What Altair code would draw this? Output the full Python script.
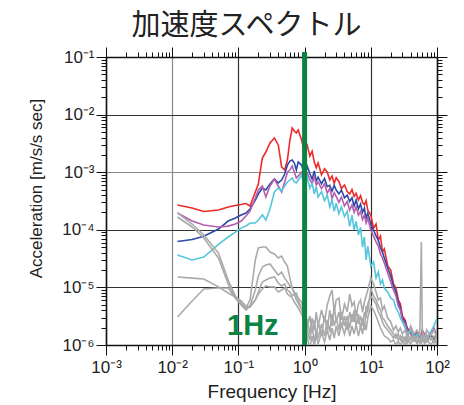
import altair as alt
import pandas as pd

# ---------------- data ----------------
color_freq = [0.012, 0.02, 0.03, 0.05, 0.07, 0.09, 0.11, 0.13, 0.15, 0.18, 0.2, 0.23, 0.26, 0.3, 0.35,
              0.4, 0.45, 0.5, 0.55, 0.6, 0.65, 0.7, 0.75, 0.8, 0.9,
              1.0, 1.1, 1.2, 1.3, 1.4, 1.5, 1.6, 1.8, 2.0, 2.2, 2.4, 2.6, 2.8, 3.0, 3.3, 3.6, 4.0, 4.4,
              4.8, 5.2, 5.6, 6.0, 6.5, 7.0, 7.5, 8.0, 8.5, 9.0, 10, 11, 12, 13, 14, 15, 16, 18, 20, 22,
              24, 26, 28, 30, 33, 36, 40, 45, 50, 55, 60, 70, 80, 90, 100]

red_acc = [2.70e-4, 2.39e-4, 2.08e-4, 2.20e-4, 2.49e-4, 2.64e-4, 2.75e-4, 2.86e-4, 2.59e-4, 4.53e-4,
           6.25e-4, 1.76e-3, 2.24e-3, 3.21e-3, 3.92e-3, 2.97e-3, 1.23e-3, 1.09e-3, 1.63e-3, 3.62e-3,
           5.85e-3, 5.19e-3, 4.80e-3, 5.40e-3, 3.62e-3,
           2.2e-3, 2.9e-3, 1.9e-3, 2.3e-3, 1.5e-3, 1.2e-3, 1.45e-3, 9.0e-4, 1.15e-3, 1.0e-3,
           7.3e-4, 8.6e-4, 6.4e-4, 8.0e-4, 6.9e-4, 5.2e-4, 6.0e-4, 4.6e-4, 4.2e-4, 5.0e-4,
           3.8e-4, 4.3e-4, 3.3e-4, 3.9e-4, 3.0e-4, 2.7e-4, 3.2e-4, 2.2e-4, 1.8e-4, 1.07e-4,
           1.26e-4, 6.65e-5, 7.8e-5, 4.12e-5, 4.65e-5, 2.35e-5, 2.00e-5, 1.15e-5, 9.76e-6, 6.05e-6,
           5.15e-6, 3.19e-6, 2.72e-6, 1.82e-6, 1.97e-6, 1.43e-6, 1.68e-6, 1.32e-6, 1.55e-6, 1.32e-6,
           1.49e-6, 1.27e-6, 1.55e-6]

blue_acc = [6.27e-5, 6.8e-5, 7.7e-5, 1.03e-4, 1.42e-4, 1.60e-4, 1.81e-4, 1.96e-4, 2.30e-4, 3.29e-4,
            4.18e-4, 5.32e-4, 4.91e-4, 6.25e-4, 7.62e-4, 6.50e-4, 7.32e-4, 9.31e-4, 1.33e-3, 1.56e-3,
            1.63e-3, 1.44e-3, 1.09e-3, 1.50e-3, 1.33e-3,
            8.6e-4, 1.25e-3, 9.5e-4, 7.6e-4, 1.05e-3, 7.0e-4, 8.2e-4, 6.3e-4, 7.8e-4, 5.6e-4,
            5.9e-4, 4.7e-4, 5.9e-4, 4.9e-4, 4.2e-4, 4.9e-4, 3.6e-4, 4.0e-4, 3.1e-4, 3.6e-4,
            2.6e-4, 3.3e-4, 2.3e-4, 2.8e-4, 2.0e-4, 2.4e-4, 1.55e-4, 1.95e-4, 1.26e-4, 9.9e-5,
            7.8e-5, 6.65e-5, 4.83e-5, 4.12e-5, 3.24e-5, 2.17e-5, 1.58e-5, 1.06e-5, 8.32e-6, 5.58e-6,
            4.39e-6, 2.94e-6, 2.51e-6, 1.82e-6, 1.68e-6, 1.43e-6, 1.55e-6, 1.32e-6, 1.43e-6, 1.27e-6,
            1.49e-6, 1.32e-6, 1.43e-6]

purple_acc = [1.96e-4, 1.42e-4, 1.21e-4, 1.12e-4, 1.16e-4, 1.26e-4, 1.42e-4, 1.74e-4, 2.12e-4, 3.56e-4,
              4.91e-4, 5.76e-4, 3.71e-4, 5.76e-4, 7.62e-4, 5.76e-4, 4.53e-4, 6.76e-4, 1.0e-3, 1.09e-3,
              1.28e-3, 1.0e-3, 7.94e-4, 8.59e-4, 1.0e-3,
              7.3e-4, 9.6e-4, 7.6e-4, 6.2e-4, 8.6e-4, 6.0e-4, 6.8e-4, 5.2e-4, 6.3e-4, 4.3e-4,
              5.3e-4, 3.5e-4, 4.4e-4, 3.8e-4, 3.0e-4, 3.7e-4, 2.6e-4, 3.1e-4, 2.2e-4, 2.7e-4,
              2.0e-4, 2.5e-4, 1.8e-4, 2.1e-4, 1.5e-4, 1.8e-4, 1.3e-4, 1.6e-4, 9.9e-5, 7.8e-5,
              6.15e-5, 5.23e-5, 3.80e-5, 3.24e-5, 2.65e-5, 1.78e-5, 1.24e-5, 9.01e-6, 7.09e-6, 4.76e-6,
              4.05e-6, 2.72e-6, 2.32e-6, 1.68e-6, 1.55e-6, 1.32e-6, 1.49e-6, 1.22e-6, 1.82e-6, 1.32e-6,
              1.62e-6, 1.97e-6, 1.43e-6]

cyan_acc = [3.65e-5, 2.99e-5, 3.37e-5, 5.6e-5, 7.5e-5, 9.1e-5, 1.07e-4, 1.16e-4, 1.31e-4, 1.31e-4,
            1.48e-4, 1.81e-4, 1.48e-4, 2.30e-4, 4.53e-4, 5.32e-4, 4.72e-4, 5.76e-4, 6.76e-4, 7.32e-4,
            7.94e-4, 6.76e-4, 6.5e-4, 7.32e-4, 8.95e-4,
            5.8e-4, 8.0e-4, 5.3e-4, 6.4e-4, 4.2e-4, 5.6e-4, 3.7e-4, 4.6e-4, 3.2e-4, 4.0e-4,
            2.5e-4, 3.3e-4, 2.1e-4, 2.9e-4, 1.9e-4, 2.5e-4, 1.7e-4, 2.1e-4, 1.15e-4, 1.8e-4,
            1.0e-4, 1.4e-4, 8.2e-5, 1.1e-4, 5.0e-5, 7.5e-5, 3.0e-5, 5.2e-5, 2.35e-5, 2.76e-5,
            1.46e-5, 1.85e-5, 1.15e-5, 1.34e-5, 9.76e-6, 8.32e-6, 6.55e-6, 6.05e-6, 4.39e-6, 3.74e-6,
            2.94e-6, 2.51e-6, 1.97e-6, 1.55e-6, 1.82e-6, 1.32e-6, 1.55e-6, 1.22e-6, 1.43e-6, 1.32e-6,
            1.68e-6, 2.14e-6, 2.94e-6]

gray_freq = [0.012, 0.02, 0.03, 0.05, 0.07, 0.09, 0.11, 0.13, 0.15, 0.18, 0.2, 0.23, 0.26, 0.3, 0.35,
             0.4, 0.45, 0.5, 0.55, 0.6, 0.65, 0.7, 0.75, 0.8, 0.9, 1.0,
             1.1, 1.2, 1.3, 1.4, 1.5, 1.6, 1.8, 2.0, 2.2, 2.4, 2.6, 2.8, 3.0, 3.3, 3.6, 4.0, 4.4, 4.8,
             5.2, 5.6, 6.0, 6.5, 7.0, 7.5, 8.0, 8.5, 9.0, 10, 11, 12, 13, 14, 15, 16, 18, 20, 22, 24,
             26, 28, 30, 33, 36, 40, 45, 50, 55, 58, 60, 65, 70, 80, 90, 100]

gray_a_acc = [1.96e-4, 1.26e-4, 8.1e-5, 3.95e-5, 1.34e-5, 7.09e-6, 5.36e-6, 4.39e-6, 6.05e-6, 2.99e-5,
              4.83e-5, 5.03e-5, 5.03e-5, 4.12e-5, 3.80e-5, 3.24e-5, 3.5e-5, 2.76e-5, 2.35e-5, 1.45e-5,
              9.76e-6, 8.32e-6, 7.09e-6, 6.05e-6, 4.39e-6, 3.19e-6,
              2.72e-6, 1.55e-6, 2.94e-6, 1.82e-6, 3.74e-6, 2.14e-6, 4.05e-6, 2.51e-6, 4.95e-6, 7.09e-6,
              9.01e-6, 3.74e-6, 6.05e-6, 6.55e-6, 2.72e-6, 5.15e-6, 3.74e-6, 7.68e-6, 4.76e-6, 5.58e-6,
              3.19e-6, 5.15e-6, 6.05e-6, 3.74e-6, 5.58e-6, 7.09e-6, 9.01e-6, 1.46e-5, 1.15e-5, 8.32e-6,
              6.05e-6, 6.55e-6, 4.05e-6, 4.76e-6, 2.94e-6, 2.51e-6, 1.82e-6, 2.14e-6, 1.68e-6, 1.97e-6,
              1.55e-6, 1.82e-6, 1.32e-6, 2.14e-6, 1.55e-6, 1.82e-6, 1.43e-6, 6.15e-5, 1.68e-6, 1.32e-6,
              1.82e-6, 1.43e-6, 1.82e-6, 1.32e-6]

gray_b_acc = [1.67e-4, 1.12e-4, 7.2e-5, 3.24e-5, 1.15e-5, 6.55e-6, 4.95e-6, 4.05e-6, 4.76e-6, 9.01e-6,
              1.58e-5, 2.26e-5, 2.45e-5, 2.55e-5, 2.00e-5, 1.64e-5, 1.85e-5, 1.45e-5, 1.24e-5, 1.06e-5,
              9.76e-6, 7.68e-6, 7.99e-6, 6.55e-6, 5.58e-6, 3.74e-6,
              1.82e-6, 1.22e-6, 2.14e-6, 1.13e-6, 1.82e-6, 1.32e-6, 2.32e-6, 1.43e-6, 2.72e-6, 1.68e-6,
              3.45e-6, 2.14e-6, 2.94e-6, 1.82e-6, 3.74e-6, 2.14e-6, 3.19e-6, 1.97e-6, 3.45e-6, 2.51e-6,
              4.05e-6, 2.32e-6, 3.19e-6, 2.14e-6, 3.74e-6, 2.94e-6, 5.15e-6, 7.09e-6, 6.05e-6, 5.15e-6,
              3.74e-6, 3.19e-6, 2.51e-6, 2.14e-6, 1.82e-6, 1.55e-6, 1.32e-6, 1.55e-6, 1.22e-6, 1.43e-6,
              1.13e-6, 1.38e-6, 1.08e-6, 1.43e-6, 1.17e-6, 1.38e-6, 1.08e-6, 1.43e-6, 1.22e-6, 1.43e-6,
              1.13e-6, 1.38e-6, 1.08e-6, 1.27e-6]

gray_c_acc = [1.52e-5, 1.45e-5, 1.40e-5, 1.02e-5, 7.99e-6, 6.81e-6, 5.81e-6, 4.76e-6, 4.57e-6, 6.05e-6,
              8.32e-6, 1.24e-5, 1.34e-5, 1.45e-5, 1.52e-5, 1.19e-5, 1.06e-5, 1.15e-5, 9.01e-6, 8.32e-6,
              7.09e-6, 7.68e-6, 6.05e-6, 5.36e-6, 4.05e-6, 2.94e-6,
              1.32e-6, 0.89e-6, 1.43e-6, 0.96e-6, 1.55e-6, 1.04e-6, 1.68e-6, 1.13e-6, 1.82e-6, 1.22e-6,
              1.97e-6, 1.32e-6, 2.14e-6, 1.43e-6, 2.32e-6, 1.55e-6, 2.51e-6, 1.43e-6, 2.14e-6, 1.55e-6,
              2.32e-6, 1.43e-6, 2.14e-6, 1.55e-6, 2.51e-6, 1.82e-6, 2.94e-6, 4.76e-6, 4.05e-6, 3.19e-6,
              2.51e-6, 1.97e-6, 1.68e-6, 1.43e-6, 1.32e-6, 1.13e-6, 1.22e-6, 1.0e-6, 1.17e-6, 0.96e-6,
              1.22e-6, 1.0e-6, 1.27e-6, 1.04e-6, 1.32e-6, 1.04e-6, 1.27e-6, 1.04e-6, 1.32e-6, 1.04e-6,
              1.27e-6, 1.0e-6, 1.22e-6, 1.04e-6]

gray_d_acc = [3.06e-6, 5.81e-6, 9.38e-6, 9.76e-6, 9.76e-6, 6.55e-6, 5.15e-6, 4.22e-6, 4.76e-6, 6.05e-6,
              7.68e-6, 9.38e-6, 1.06e-5, 1.02e-5, 1.02e-5, 8.32e-6, 9.01e-6, 9.76e-6, 7.68e-6, 7.09e-6,
              6.55e-6, 5.58e-6, 4.95e-6, 4.39e-6, 3.45e-6, 2.51e-6,
              2.14e-6, 3.19e-6, 1.68e-6, 2.72e-6, 1.32e-6, 2.51e-6, 1.43e-6, 3.19e-6, 1.82e-6, 4.05e-6,
              2.14e-6, 4.76e-6, 2.51e-6, 3.74e-6, 1.97e-6, 3.19e-6, 1.82e-6, 3.74e-6, 2.51e-6, 4.05e-6,
              2.14e-6, 3.45e-6, 1.97e-6, 2.94e-6, 1.82e-6, 4.76e-6, 3.74e-6, 9.76e-6, 7.09e-6, 6.05e-6,
              4.76e-6, 4.05e-6, 2.94e-6, 2.72e-6, 2.14e-6, 1.82e-6, 1.55e-6, 1.32e-6, 1.55e-6, 1.22e-6,
              1.43e-6, 1.17e-6, 1.49e-6, 1.22e-6, 1.43e-6, 1.13e-6, 1.32e-6, 1.17e-6, 1.43e-6, 1.17e-6,
              1.49e-6, 1.22e-6, 1.43e-6, 1.17e-6]

x_tick_values = [0.001, 0.002, 0.003, 0.004, 0.005, 0.006, 0.007, 0.008, 0.009,
                 0.01, 0.02, 0.03, 0.04, 0.05, 0.06, 0.07, 0.08, 0.09,
                 0.1, 0.2, 0.3, 0.4, 0.5, 0.6, 0.7, 0.8, 0.9,
                 1, 2, 3, 4, 5, 6, 7, 8, 9,
                 10, 20, 30, 40, 50, 60, 70, 80, 90, 100]
y_tick_values = [1e-6, 2e-6, 3e-6, 4e-6, 5e-6, 6e-6, 7e-6, 8e-6, 9e-6,
                 1e-5, 2e-5, 3e-5, 4e-5, 5e-5, 6e-5, 7e-5, 8e-5, 9e-5,
                 1e-4, 2e-4, 3e-4, 4e-4, 5e-4, 6e-4, 7e-4, 8e-4, 9e-4,
                 1e-3, 2e-3, 3e-3, 4e-3, 5e-3, 6e-3, 7e-3, 8e-3, 9e-3,
                 1e-2, 2e-2, 3e-2, 4e-2, 5e-2, 6e-2, 7e-2, 8e-2, 9e-2, 1e-1]
x_tick_labels = {-3: "10⁻³", -2: "10⁻²", -1: "10⁻¹", 0: "10⁰", 1: "10¹", 2: "10²"}
y_tick_labels = {-6: "10⁻⁶", -5: "10⁻⁵", -4: "10⁻⁴", -3: "10⁻³", -2: "10⁻²", -1: "10⁻¹"}

title_text = "加速度スペクトル"
x_title = "Frequency [Hz]"
y_title = "Acceleration [m/s/s sec]"
marker_label = "1Hz"
marker_freq = 1.0

# ---------------- styling ----------------
FONT = "Liberation Sans"
GREEN = "#0b8443"
series_styles = [
    ("red", red_acc, color_freq, "#ee2a2a"),
    ("blue", blue_acc, color_freq, "#2d4aa6"),
    ("purple", purple_acc, color_freq, "#b35eae"),
    ("cyan", cyan_acc, color_freq, "#55c6dc"),
    ("gray_a", gray_a_acc, gray_freq, "#aaaaaa"),
    ("gray_b", gray_b_acc, gray_freq, "#aaaaaa"),
    ("gray_c", gray_c_acc, gray_freq, "#aaaaaa"),
    ("gray_d", gray_d_acc, gray_freq, "#aaaaaa"),
]
for name, acc, fr, _ in series_styles:
    assert len(acc) == len(fr), (name, len(acc), len(fr))

xscale = alt.Scale(type="log", domain=[1e-3, 1e2], nice=False)
yscale = alt.Scale(type="log", domain=[1e-6, 1e-1], nice=False)

LOG = "log(datum.value)/LN10"
MAJOR = f"abs({LOG} - round({LOG})) < 0.01"


def label_expr(labels):
    expr = "''"
    for e, lab in labels.items():
        expr = f"round({LOG}) == {e} ? '{lab}' : ({expr})"
    return f"{MAJOR} ? ({expr}) : ''"


tick_size = {"condition": {"test": MAJOR, "value": 10}, "value": 5}
grid_op = {"condition": {"test": MAJOR, "value": 1}, "value": 0}

common_axis = dict(
    tickSize=tick_size, tickColor="#111", tickWidth=1,
    domainColor="#111", domainWidth=1.5,
    labelFont=FONT, labelFontSize=17, labelColor="#222",
    labelFlush=False, labelOverlap=False,
    titleFont=FONT, titleFontWeight="normal", titleColor="#222",
)

x_axis_bottom = alt.Axis(
    orient="bottom", values=x_tick_values, labelExpr=label_expr(x_tick_labels),
    title=x_title, titleFontSize=19, titleY=37, titleBaseline="top",
    grid=True, gridOpacity=grid_op, gridWidth=1.2,
    gridColor={"condition": {"test": "datum.value == 0.01", "value": "#8a8a8a"}, "value": "#333333"},
    labelPadding=4, **common_axis)
y_axis_left = alt.Axis(
    orient="left", values=y_tick_values, labelExpr=label_expr(y_tick_labels),
    title=y_title, titleFontSize=17, titleX=-70, titleY=131, titleAlign="center",
    titleBaseline="middle", titleAngle=-90,
    grid=True, gridOpacity=grid_op, gridWidth=1.2,
    gridColor={"condition": {"test": "datum.value == 0.001", "value": "#8a8a8a"}, "value": "#333333"},
    labelPadding=2, **common_axis)
x_axis_top = alt.Axis(orient="top", values=x_tick_values, labels=False, title=None, grid=False,
                      tickSize=tick_size, tickColor="#111", domainColor="#111", domainWidth=1.5)
y_axis_right = alt.Axis(orient="right", values=y_tick_values, labels=False, title=None, grid=False,
                        tickSize=tick_size, tickColor="#111", domainColor="#111", domainWidth=1.5)

layers = []
for i, (name, acc, fr, col) in enumerate(series_styles):
    df = pd.DataFrame({"freq": fr, "acc": acc})
    xa = x_axis_bottom if i == 0 else None
    ya = y_axis_left if i == 0 else None
    layers.append(
        alt.Chart(df).mark_line(color=col, strokeWidth=1.6, clip=True).encode(
            x=alt.X("freq:Q", scale=xscale, axis=xa),
            y=alt.Y("acc:Q", scale=yscale, axis=ya),
        )
    )

marker = alt.Chart().mark_rule(color=GREEN, strokeWidth=5).encode(
    x=alt.X(datum=marker_freq, type="quantitative", scale=xscale, axis=x_axis_top),
    y=alt.Y(datum=1e-6, type="quantitative", scale=yscale, axis=y_axis_right),
    y2=alt.value(-5),
)
marker_text = alt.Chart().mark_text(
    text=marker_label, font=FONT, fontSize=29, fontWeight="bold", color=GREEN,
    align="right", baseline="alphabetic", dx=-26,
).encode(
    x=alt.X(datum=marker_freq, type="quantitative", scale=xscale, axis=None),
    y=alt.Y(datum=1.5e-6, type="quantitative", scale=yscale, axis=None),
)

chart = alt.layer(*layers, marker, marker_text).resolve_axis(
    x="independent", y="independent"
).properties(
    width=331, height=288,
    title=alt.TitleParams(title_text, font="Noto Sans CJK JP", fontSize=29, fontWeight="normal",
                          color="#222", anchor="middle", dx=-25, offset=6),
    autosize=alt.AutoSizeParams(type="none"),
    padding={"left": 98, "top": 49, "right": 19, "bottom": 58},
).configure_view(stroke=None)

chart.save("out.html", embed_options={"renderer": "svg", "actions": False})
